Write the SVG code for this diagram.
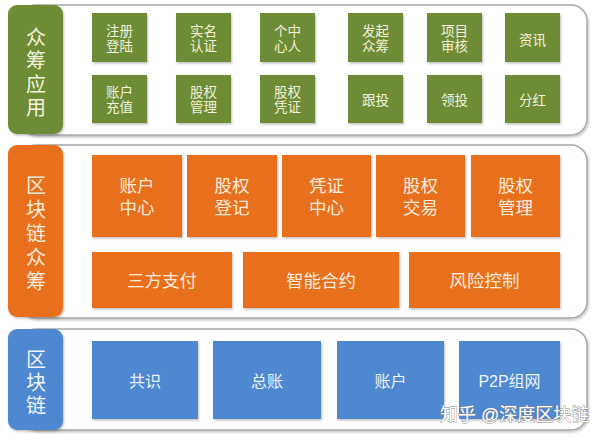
<svg xmlns="http://www.w3.org/2000/svg" width="600" height="439" viewBox="0 0 600 439">
<defs>
<filter id="sh" x="-10%" y="-10%" width="130%" height="130%">
<feDropShadow dx="1" dy="1.5" stdDeviation="1.2" flood-color="#000" flood-opacity="0.25"/>
</filter>
</defs>
<style>
text{font-family:"Liberation Sans","Noto Sans CJK SC",sans-serif;text-anchor:middle}
.frame{fill:#fff;stroke:#a8a8a8;stroke-width:1.5;filter:url(#sh)}
.g{fill:#6E8C34;filter:url(#sh)}
.o{fill:#E8701E;filter:url(#sh)}
.b{fill:#4E88D0;filter:url(#sh)}
.tg{fill:#F3F1DC;font-size:13.5px}
.to{fill:#FCEBDC;font-size:17.5px}
.tb{fill:#EEF3FA;font-size:16px}
.lab{font-size:20px}
.wm{fill:#fff;stroke:#888;stroke-width:0.8;font-size:18px;text-anchor:start;paint-order:stroke}
</style>
<g id="frames">
<rect class="frame" x="20" y="5" width="567" height="130" rx="16"/>
<rect class="frame" x="20" y="145" width="567" height="173" rx="16"/>
<rect class="frame" x="20" y="329" width="567" height="101" rx="16"/>
</g>
<g id="label-app">
<rect class="g" x="8" y="5" width="55" height="129" rx="9"/>
<text class="tg lab"><tspan x="36" y="45">众</tspan><tspan x="36" y="68">筹</tspan><tspan x="36" y="92">应</tspan><tspan x="36" y="115">用</tspan></text>
</g>
<g id="n-zhuce"><rect class="g" x="92" y="13" width="55" height="49"/><text class="tg"><tspan x="119.5" y="35.5">注册</tspan><tspan x="119.5" y="51">登陆</tspan></text></g>
<g id="n-shiming"><rect class="g" x="176" y="13" width="55" height="49"/><text class="tg"><tspan x="203.5" y="35.5">实名</tspan><tspan x="203.5" y="51">认证</tspan></text></g>
<g id="n-geren"><rect class="g" x="260" y="13" width="55" height="49"/><text class="tg"><tspan x="287.5" y="35.5">个中</tspan><tspan x="287.5" y="51">心人</tspan></text></g>
<g id="n-faqi"><rect class="g" x="348" y="13" width="55" height="49"/><text class="tg"><tspan x="375.5" y="35.5">发起</tspan><tspan x="375.5" y="51">众筹</tspan></text></g>
<g id="n-xiangmu"><rect class="g" x="427" y="13" width="55" height="49"/><text class="tg"><tspan x="454.5" y="35.5">项目</tspan><tspan x="454.5" y="51">审核</tspan></text></g>
<g id="n-zixun"><rect class="g" x="505" y="13" width="55" height="49"/><text class="tg" x="532.5" y="45">资讯</text></g>
<g id="n-zhanghu1"><rect class="g" x="92" y="75" width="55" height="48"/><text class="tg"><tspan x="119.5" y="96.5">账户</tspan><tspan x="119.5" y="112">充值</tspan></text></g>
<g id="n-guquan1"><rect class="g" x="176" y="75" width="55" height="48"/><text class="tg"><tspan x="203.5" y="96.5">股权</tspan><tspan x="203.5" y="112">管理</tspan></text></g>
<g id="n-pingzheng1"><rect class="g" x="260" y="75" width="55" height="48"/><text class="tg"><tspan x="287.5" y="96.5">股权</tspan><tspan x="287.5" y="112">凭证</tspan></text></g>
<g id="n-gentou"><rect class="g" x="348" y="75" width="55" height="48"/><text class="tg" x="375.5" y="105">跟投</text></g>
<g id="n-lingtou"><rect class="g" x="427" y="75" width="55" height="48"/><text class="tg" x="454.5" y="105">领投</text></g>
<g id="n-fenhong"><rect class="g" x="505" y="75" width="55" height="48"/><text class="tg" x="532.5" y="105">分红</text></g>
<g id="label-bcf">
<rect class="o" x="8" y="145" width="55" height="172" rx="9"/>
<text class="to lab"><tspan x="36" y="193">区</tspan><tspan x="36" y="217">块</tspan><tspan x="36" y="241">链</tspan><tspan x="36" y="265">众</tspan><tspan x="36" y="289">筹</tspan></text>
</g>
<g id="n-zhzx"><rect class="o" x="92" y="155" width="90" height="82"/><text class="to"><tspan x="137" y="192">账户</tspan><tspan x="137" y="214">中心</tspan></text></g>
<g id="n-gqdj"><rect class="o" x="187" y="155" width="90" height="82"/><text class="to"><tspan x="232" y="192">股权</tspan><tspan x="232" y="214">登记</tspan></text></g>
<g id="n-pzzx"><rect class="o" x="282" y="155" width="89" height="82"/><text class="to"><tspan x="326.5" y="192">凭证</tspan><tspan x="326.5" y="214">中心</tspan></text></g>
<g id="n-gqjy"><rect class="o" x="376" y="155" width="89" height="82"/><text class="to"><tspan x="420.5" y="192">股权</tspan><tspan x="420.5" y="214">交易</tspan></text></g>
<g id="n-gqgl"><rect class="o" x="471" y="155" width="89" height="82"/><text class="to"><tspan x="515.5" y="192">股权</tspan><tspan x="515.5" y="214">管理</tspan></text></g>
<g id="n-sfzf"><rect class="o" x="92" y="252" width="140" height="56"/><text class="to" x="162" y="287">三方支付</text></g>
<g id="n-znhy"><rect class="o" x="243" y="252" width="156" height="56"/><text class="to" x="321" y="287">智能合约</text></g>
<g id="n-fxkz"><rect class="o" x="409" y="252" width="151" height="56"/><text class="to" x="484.5" y="287">风险控制</text></g>
<g id="label-bc">
<rect class="b" x="8" y="329" width="55" height="101" rx="9"/>
<text class="tb lab"><tspan x="36" y="367">区</tspan><tspan x="36" y="390">块</tspan><tspan x="36" y="413">链</tspan></text>
</g>
<g id="n-gongshi"><rect class="b" x="92" y="341" width="106" height="78"/><text class="tb" x="145" y="387">共识</text></g>
<g id="n-zongzhang"><rect class="b" x="213" y="341" width="108" height="78"/><text class="tb" x="267" y="387">总账</text></g>
<g id="n-zhanghu"><rect class="b" x="337" y="341" width="107" height="78"/><text class="tb" x="390.5" y="387">账户</text></g>
<g id="n-p2p"><rect class="b" x="459" y="341" width="101" height="78"/><text class="tb" x="509.5" y="387">P2P组网</text></g>
<g id="connectors"></g>
<text class="wm" x="440" y="421">知乎 @深度区块链</text>
</svg>
